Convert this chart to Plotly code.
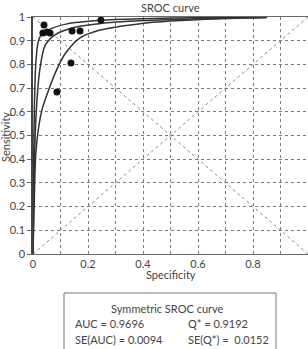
import plotly.graph_objects as go

# ---- data ----
study_spec = [0.040, 0.036, 0.051, 0.062, 0.087, 0.138, 0.142, 0.171, 0.247]
study_sens = [0.966, 0.932, 0.937, 0.932, 0.684, 0.806, 0.941, 0.941, 0.987]

inner_x = [0, 0.002, 0.005, 0.010, 0.018, 0.030, 0.060, 0.120, 0.245, 0.400, 0.600, 0.850]
inner_y = [0, 0.35, 0.62, 0.80, 0.89, 0.925, 0.948, 0.970, 0.986, 0.993, 0.997, 0.999]

mid_x = [0, 0.003, 0.008, 0.015, 0.025, 0.044, 0.080, 0.146, 0.240, 0.400, 0.600, 0.850]
mid_y = [0, 0.25, 0.50, 0.66, 0.78, 0.88, 0.925, 0.955, 0.972, 0.985, 0.993, 0.998]

outer_x = [0, 0.004, 0.010, 0.020, 0.033, 0.050, 0.087, 0.120, 0.171, 0.244, 0.389, 0.500, 0.680, 0.850]
outer_y = [0, 0.20, 0.42, 0.53, 0.61, 0.67, 0.78, 0.85, 0.912, 0.945, 0.972, 0.983, 0.993, 0.998]

diag_x = [0, 1]
diag_up_y = [0, 1]
diag_down_y = [1, 0]

x_ticks = [0, 0.1, 0.2, 0.3, 0.4, 0.5, 0.6, 0.7, 0.8, 0.9, 1.0]
x_labels = ["0", "", "0.2", "", "0.4", "", "0.6", "", "0.8", "", ""]
y_ticks = [0, 0.1, 0.2, 0.3, 0.4, 0.5, 0.6, 0.7, 0.8, 0.9, 1.0]
y_labels = ["0", "0.1", "0.2", "0.3", "0.4", "0.5", "0.6", "0.7", "0.8", "0.9", "1"]

title_text = "SROC curve"
x_title = "Specificity"
y_title = "Sensitivity"
box_title = "Symmetric SROC curve"
stats_left = ["AUC = 0.9696", "SE(AUC) = 0.0094"]
stats_right = ["Q* = 0.9192", "SE(Q*) =  0.0152"]

FONT = "Lato"
TXT = "#444444"

fig = go.Figure()

for yy in (diag_up_y, diag_down_y):
    fig.add_trace(go.Scatter(x=diag_x, y=yy, mode="lines",
                             line=dict(color="#8a8a8a", width=1, dash="dot"),
                             hoverinfo="skip", showlegend=False))

for xs, ys in ((outer_x, outer_y), (mid_x, mid_y), (inner_x, inner_y)):
    fig.add_trace(go.Scatter(x=xs, y=ys, mode="lines",
                             line=dict(color="#333333", width=1.5, shape="spline", smoothing=0.8),
                             showlegend=False))

fig.add_trace(go.Scatter(x=study_spec, y=study_sens, mode="markers",
                         marker=dict(color="#111111", size=7), showlegend=False))

fig.update_layout(
    width=308, height=349,
    margin=dict(l=33, r=0, t=17, b=95),
    paper_bgcolor="white", plot_bgcolor="white",
    font=dict(family=FONT, size=11, color=TXT),
    showlegend=False,
)
fig.update_xaxes(range=[0, 1], tickvals=x_ticks, ticktext=x_labels,
                 showgrid=True, gridcolor="#7a7a7a", griddash="dot", gridwidth=1,
                 showline=True, linecolor="#6a6a6a", linewidth=1.3, mirror=True,
                 ticks="", zeroline=False, tickfont=dict(size=11, color=TXT))
fig.update_yaxes(range=[0, 1], tickvals=y_ticks, ticktext=y_labels,
                 showgrid=True, gridcolor="#7a7a7a", griddash="dot", gridwidth=1,
                 showline=True, linecolor="#444444", linewidth=1.5,
                 ticks="outside", ticklen=4, tickcolor="#666666",
                 zeroline=False, tickfont=dict(size=11, color=TXT))

def px_x(p):
    return (p - 33) / 275.0

def px_y(p):
    return (254 - p) / 237.0

ann = [
    dict(text=title_text, x=px_x(170), y=px_y(7)),
    dict(text=x_title, x=px_x(171), y=px_y(274)),
    dict(text=y_title, x=px_x(5), y=px_y(137), textangle=-90),
    dict(text=box_title, x=px_x(167), y=px_y(308)),
]
for a in ann:
    fig.add_annotation(xref="paper", yref="paper", showarrow=False,
                       xanchor="center", yanchor="middle",
                       font=dict(family=FONT, size=11, color=TXT), **a)
for i, (l, r) in enumerate(zip(stats_left, stats_right)):
    yy = px_y(323 + 16 * i)
    fig.add_annotation(xref="paper", yref="paper", showarrow=False, text=l,
                       x=px_x(73), y=yy, xanchor="left", yanchor="middle",
                       font=dict(family=FONT, size=11, color=TXT))
    fig.add_annotation(xref="paper", yref="paper", showarrow=False, text=r,
                       x=px_x(186), y=yy, xanchor="left", yanchor="middle",
                       font=dict(family=FONT, size=11, color=TXT))

fig.add_shape(type="rect", xref="paper", yref="paper",
              x0=px_x(64), x1=px_x(276), y0=px_y(360), y1=px_y(293),
              line=dict(color="#777777", width=1), fillcolor="rgba(0,0,0,0)")

fig.write_html("out.html")
